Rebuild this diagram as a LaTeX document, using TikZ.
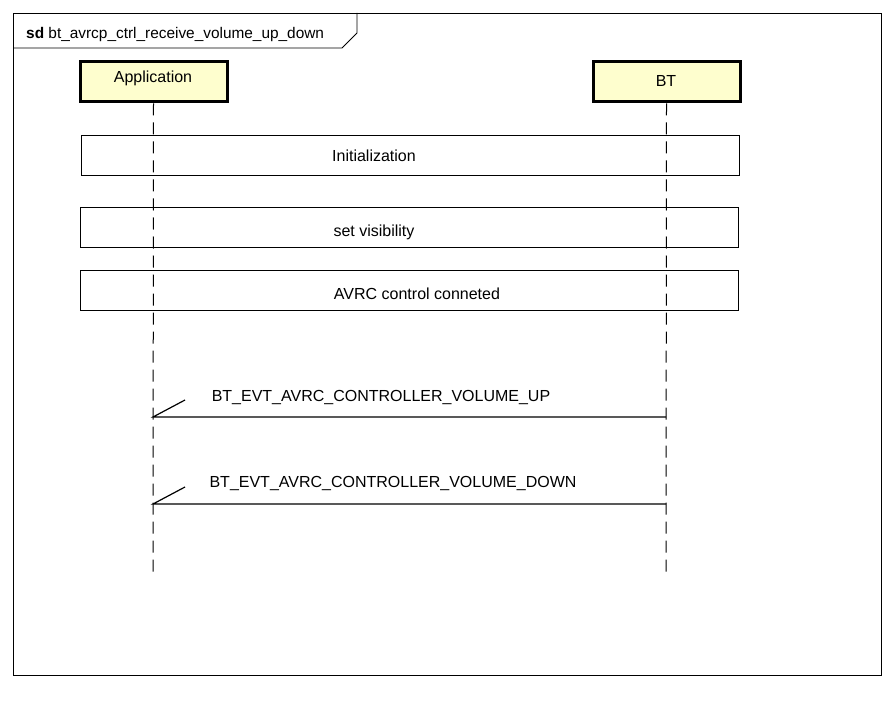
\documentclass[tikz,border=0pt]{standalone}
\usepackage{fontspec}
\setmainfont{Liberation Sans}
\definecolor{partfill}{RGB}{254,254,206}
\begin{document}
\begin{tikzpicture}[x=1pt,y=-1pt,
  every node/.style={font=\fontsize{16}{18}\selectfont, inner sep=0pt},
  part/.style={draw=black, line width=3pt, fill=partfill, minimum width=147pt, minimum height=40pt},
  frag/.style={draw=black, line width=0.8pt, minimum height=40pt},
  life/.style={draw=black, line width=1pt, dash pattern=on 12pt off 7pt},
  msg/.style={draw=black, line width=1.2pt}]
\useasboundingbox (0,0) rectangle (894,714);
% frame
\draw[line width=0.8pt] (13,13) rectangle (881,675);
\draw[line width=0.8pt] (13,48) -- (342,48) -- (357,33) -- (357,13);
\node[anchor=base west, font=\fontsize{15.4}{17}\selectfont] (title) at (26,39) {\textbf{sd} bt\_avrcp\_ctrl\_receive\_volume\_up\_down};
% participants
\node[part] (app) at (153.5,82) {};
\node (applbl) at (153,78) {Application};
\node[part] (bt) at (666.5,82) {};
\node (btlbl) at (666,81) {BT};
% lifelines
\coordinate (append) at (153,572);
\coordinate (btend) at (666,572);
\draw[life] (app.south) -- (append);
\draw[life] (bt.south) -- (btend);
% fragments
\node[frag, minimum width=658pt] (init) at (410,155) {};
\node (initlbl) at (374,156) {Initialization};
\node[frag, minimum width=658pt] (vis) at (409,227) {};
\node (vislbl) at (374,232) {set visibility};
\node[frag, minimum width=658pt] (avrc) at (409,290) {};
\node (avrclbl) at (417,294) {AVRC control conneted};
% messages
\coordinate (bt1) at (666,417);
\coordinate (app1) at (153,417);
\coordinate (tip1) at (185,400);
\draw[msg] (bt1) -- (app1) -- (tip1);
\node (m1) at (381,398) {BT\_EVT\_AVRC\_CONTROLLER\_VOLUME\_UP};
\coordinate (bt2) at (666,504);
\coordinate (app2) at (153,504);
\coordinate (tip2) at (185,487);
\draw[msg] (bt2) -- (app2) -- (tip2);
\node (m2) at (393,484) {BT\_EVT\_AVRC\_CONTROLLER\_VOLUME\_DOWN};
\end{tikzpicture}
\end{document}
